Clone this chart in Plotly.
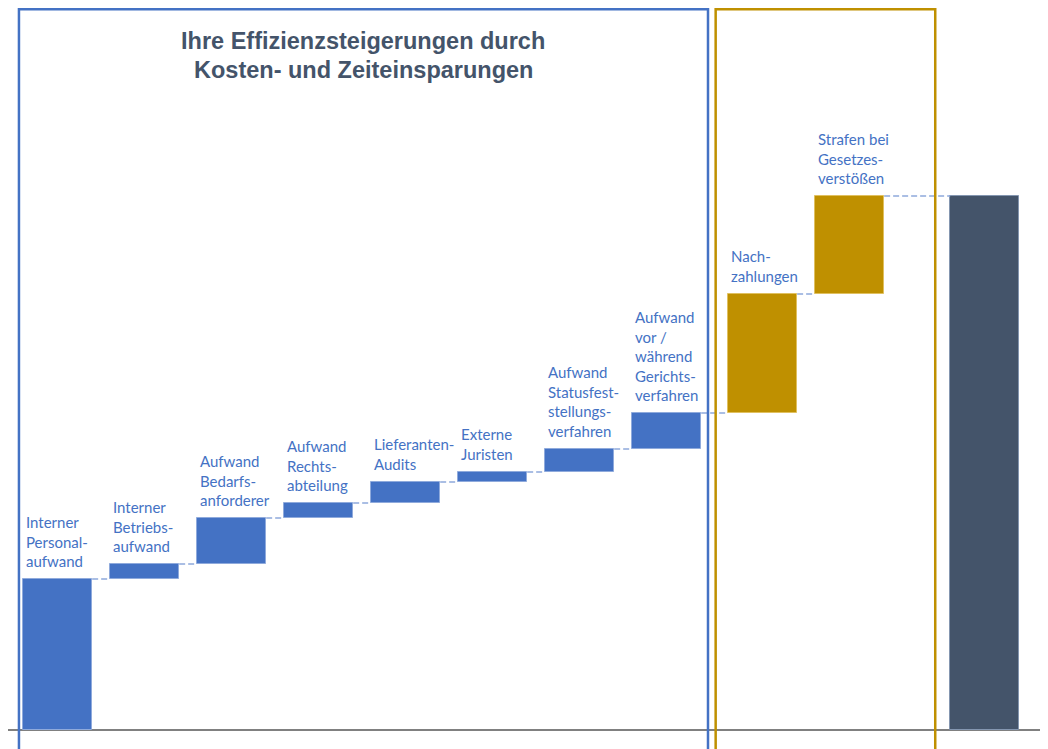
import plotly.graph_objects as go

# ---- data ----
labels = [
    "Interner<br>Personal-<br>aufwand",
    "Interner<br>Betriebs-<br>aufwand",
    "Aufwand<br>Bedarfs-<br>anforderer",
    "Aufwand<br>Rechts-<br>abteilung",
    "Lieferanten-<br>Audits",
    "Externe<br>Juristen",
    "Aufwand<br>Statusfest-<br>stellungs-<br>verfahren",
    "Aufwand<br>vor /<br>während<br>Gerichts-<br>verfahren",
    "Nach-<br>zahlungen",
    "Strafen bei<br>Gesetzes-<br>verstößen",
]
values = [151, 15, 46, 15, 21, 10, 23, 36, 119, 98]
groups = ["intern"] * 8 + ["risiko"] * 2
title_lines = ["Ihre Effizienzsteigerungen durch", "Kosten- und Zeiteinsparungen"]

# ---- styling / layout constants ----
BLUE = "#4472C4"
GOLD = "#BF9000"
DARK = "#44546A"
fill = {"intern": BLUE, "risiko": GOLD, "total": DARK}
edge = {"intern": "#8FAADC", "risiko": "#E0C060", "total": "#8496B0"}
group_offset = {"intern": 0.0, "risiko": 0.103, "total": 0.655}
BAR_W = 0.793
HW = BAR_W / 2

n = len(values)
xs = [i + group_offset[g] for i, g in enumerate(groups)]
total = sum(values)
x_total = n + group_offset["total"]

bases, tops = [], []
run = 0
for v in values:
    bases.append(run)
    run += v
    tops.append(run)

all_x = xs + [x_total]
all_base = bases + [0]
all_val = values + [total]
all_grp = groups + ["total"]

fig = go.Figure()

# connectors
cx, cy = [], []
for i in range(n):
    x_next = all_x[i + 1]
    cx += [all_x[i] + HW, x_next - HW, None]
    cy += [tops[i], tops[i], None]
fig.add_trace(go.Scatter(
    x=cx, y=cy, mode="lines", hoverinfo="skip", showlegend=False,
    line=dict(color="#8EA9DB", width=1.5, dash="6px,3px"),
))

fig.add_trace(go.Bar(
    x=all_x, y=all_val, base=all_base, width=BAR_W,
    marker=dict(color=[fill[g] for g in all_grp],
                line=dict(color=[edge[g] for g in all_grp], width=1)),
    showlegend=False, hoverinfo="skip",
))

annotations = []
for i, lab in enumerate(labels):
    annotations.append(dict(
        x=xs[i] - HW, y=tops[i], xref="x", yref="y",
        text=lab, showarrow=False, xanchor="left", yanchor="bottom",
        align="left", xshift=1, yshift=7,
        font=dict(family="Lato", size=15, color=BLUE),
    ))

blue_x0, blue_x1 = -0.445, 7.475
gold_x0, gold_x1 = 7.563, 10.087
frame_top = 720.8

title_x = (blue_x0 + blue_x1) / 2
for k, t in enumerate(title_lines):
    annotations.append(dict(
        x=title_x, y=689 - 29 * k, xref="x", yref="y", text="<b>%s</b>" % t,
        showarrow=False, xanchor="center", yanchor="middle",
        font=dict(family="Liberation Sans", size=23.5, color=DARK),
    ))

shapes = [
    dict(type="rect", xref="x", yref="y", x0=blue_x0, x1=blue_x1, y0=-40, y1=frame_top,
         line=dict(color=BLUE, width=2.5), fillcolor="rgba(0,0,0,0)", layer="above"),
    dict(type="rect", xref="x", yref="y", x0=gold_x0, x1=gold_x1, y0=-40, y1=frame_top,
         line=dict(color=GOLD, width=2.5), fillcolor="rgba(0,0,0,0)", layer="above"),
]

fig.update_layout(
    width=1048, height=749,
    margin=dict(l=0, r=0, t=0, b=0),
    paper_bgcolor="white", plot_bgcolor="white",
    xaxis=dict(range=[-0.571, 11.475], showgrid=False, zeroline=False,
               showticklabels=False, ticks="", fixedrange=True),
    yaxis=dict(range=[-27, 722], showgrid=False, zeroline=True,
               zerolinecolor="#808080", zerolinewidth=2,
               showticklabels=False, ticks="", fixedrange=True),
    annotations=annotations,
    shapes=shapes,
    bargap=0,
)

fig.write_html("out.html", config={"displayModeBar": False})
